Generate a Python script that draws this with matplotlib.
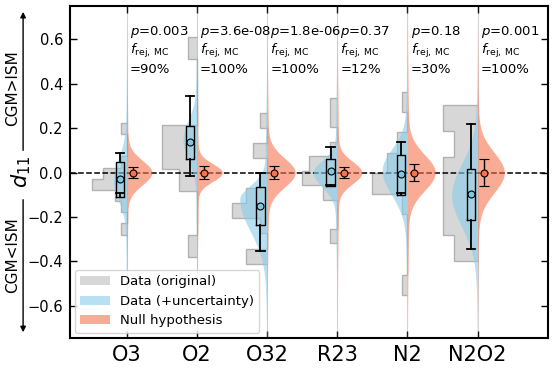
import numpy as np
import matplotlib.pyplot as plt
from matplotlib.patches import Patch

cats = ['O3', 'O2', 'O32', 'R23', 'N2', 'N2O2']

# grey histograms of the original d11 values (range and counts per bin)
hist_lo = [-0.279, -0.380, -0.410, -0.318, -0.553, -0.399]
hist_hi = [0.224, 0.612, 0.269, 0.334, 0.364, 0.303]
hist_counts = [
    [1, 0, 1, 2, 6, 4, 1, 0, 0, 1],
    [1, 0, 0, 2, 4, 4, 0, 0, 0, 1],
    [3, 0, 1, 5, 3, 1, 0, 2, 0, 1],
    [1, 0, 0, 2, 5, 4, 1, 0, 1, 1],
    [1, 0, 0, 0, 1, 7, 4, 2, 0, 1],
    [2, 3, 3, 3, 2, 3],
]

# data (+uncertainty) distribution: peak, upper / lower spread
mc_peak = [-0.04, 0.15, -0.12, 0.00, 0.01, -0.10]
mc_sig_up = [0.10, 0.085, 0.06, 0.055, 0.094, 0.135]
mc_sig_dn = [0.085, 0.09, 0.14, 0.065, 0.11, 0.14]

# null hypothesis spread
null_sig = [0.055, 0.04, 0.065, 0.05, 0.08, 0.09]
null_err = [0.023, 0.03, 0.03, 0.025, 0.04, 0.06]

# box summaries of data (+uncertainty)
box_mean = [-0.030, 0.140, -0.149, 0.007, -0.008, -0.098]
box_q1 = [-0.110, 0.061, -0.235, -0.060, -0.100, -0.212]
box_q3 = [0.048, 0.212, -0.065, 0.063, 0.078, 0.018]
box_wlo = [-0.092, -0.015, -0.355, -0.055, -0.094, -0.346]
box_whi = [0.088, 0.347, 0.000, 0.116, 0.138, 0.221]

pvals = ['0.003', '3.6e-08', '1.8e-06', '0.37', '0.18', '0.001']
frej = ['90', '100', '100', '12', '30', '100']

c_grey = '#d0d0d0'
c_blue = '#87ceeb'
c_null = '#f5734e'

fig = plt.figure(figsize=(5.55, 3.68), dpi=100)
ax = fig.add_axes([0.126, 0.0815, 0.861, 0.902])

yy = np.linspace(-0.75, 0.75, 800)
xpos = np.arange(len(cats))

ax.axhline(0, color='black', ls='--', lw=1.1, zorder=1.5)

for i, x in enumerate(xpos):
    ax.axvline(x, color='#dcdcdc', lw=0.8, zorder=0.5)

    # histogram to the left
    counts = np.array(hist_counts[i], dtype=float)
    edges = np.linspace(hist_lo[i], hist_hi[i], len(counts) + 1)
    w = counts / counts.max() * 0.5
    ax.stairs(x - w, edges, baseline=x, orientation='horizontal', fill=True,
              facecolor=c_grey, edgecolor='#a8a8a8', lw=1.0, alpha=0.85, zorder=1)

    # data + uncertainty half violin
    sig = np.where(yy > mc_peak[i], mc_sig_up[i], mc_sig_dn[i])
    core = np.exp(-0.5 * ((yy - mc_peak[i]) / sig) ** 2)
    tail = np.exp(-0.5 * ((yy - mc_peak[i]) / 0.35) ** 2)
    bmax = [0.19, 0.20, 0.39, 0.34, 0.36, 0.37][i]
    ax.fill_betweenx(yy, x - bmax * (0.92 * core + 0.08 * tail), x,
                     color=c_blue, alpha=0.6, lw=0, zorder=2)

    # null hypothesis half violin
    core = np.exp(-0.5 * (yy / null_sig[i]) ** 2)
    tail = np.exp(-0.5 * (yy / 0.3) ** 2)
    nmax = [0.357, 0.36, 0.40, 0.35, 0.395, 0.38][i]
    ax.fill_betweenx(yy, x, x + nmax * (0.95 * core + 0.05 * tail),
                     color=c_null, alpha=0.6, lw=0, zorder=2)

    ax.errorbar(x + 0.095, 0, yerr=null_err[i], fmt='o', ms=5,
                mfc=c_null, mec='black', mew=0.8, ecolor='black',
                elinewidth=1.0, capsize=3.5, capthick=1.0, zorder=5)

stats = [dict(med=box_mean[i], q1=box_q1[i], q3=box_q3[i],
              whislo=box_wlo[i], whishi=box_whi[i], fliers=[])
         for i in range(len(cats))]
ax.bxp(stats, positions=xpos - 0.095, widths=0.12, capwidths=0.12,
       showfliers=False, patch_artist=False, manage_ticks=False,
       boxprops=dict(color='black', lw=1.0),
       whiskerprops=dict(color='black', lw=1.3),
       capprops=dict(color='black', lw=1.3),
       medianprops=dict(lw=0), zorder=4)
ax.plot(xpos - 0.095, box_mean, 'o', ms=5, mfc='#7ec8e3', mec='black',
        mew=0.8, ls='none', zorder=5)

for i, x in enumerate(xpos):
    ax.text(x + 0.045, 0.619, '$p$=' + pvals[i], fontsize=9.5, va='baseline')
    ax.text(x + 0.045, 0.535, r'$f_{\rm rej,\,MC}$', fontsize=9.5, va='baseline')
    ax.text(x + 0.045, 0.449, '=' + frej[i] + '%', fontsize=9.5, va='baseline')

ax.set_xlim(-0.81, 6.0)
ax.set_ylim(-0.745, 0.75)
ax.set_xticks(xpos)
ax.set_xticklabels(cats, fontsize=15)
ax.set_yticks([-0.6, -0.4, -0.2, 0.0, 0.2, 0.4, 0.6])
ax.tick_params(axis='y', labelsize=10.5)
ax.tick_params(direction='in', length=5, width=1, pad=5, top=True, right=True)
for s in ax.spines.values():
    s.set_linewidth(1.5)

ax.text(-0.101, 0.5, '$d_{11}$', transform=ax.transAxes, rotation=90,
        fontsize=15, ha='center', va='center')

ax.annotate('', xy=(-0.098, 0.991), xytext=(-0.098, 0.557), xycoords='axes fraction',
            arrowprops=dict(arrowstyle='-|>', lw=1.0, color='black', mutation_scale=8),
            annotation_clip=False)
ax.annotate('', xy=(-0.098, 0.009), xytext=(-0.098, 0.425), xycoords='axes fraction',
            arrowprops=dict(arrowstyle='-|>', lw=1.0, color='black', mutation_scale=8),
            annotation_clip=False)
ax.text(-0.12, 0.753, 'CGM>ISM', transform=ax.transAxes, rotation=90,
        fontsize=11, ha='center', va='center')
ax.text(-0.12, 0.25, 'CGM<ISM', transform=ax.transAxes, rotation=90,
        fontsize=11, ha='center', va='center')

handles = [Patch(facecolor=c_grey, alpha=0.85, label='Data (original)'),
           Patch(facecolor=c_blue, alpha=0.6, label='Data (+uncertainty)'),
           Patch(facecolor=c_null, alpha=0.6, label='Null hypothesis')]
ax.legend(handles=handles, loc='lower left', fontsize=9.5, handlelength=2.2,
          borderaxespad=0.4)

fig.savefig('out.png', dpi=100)
